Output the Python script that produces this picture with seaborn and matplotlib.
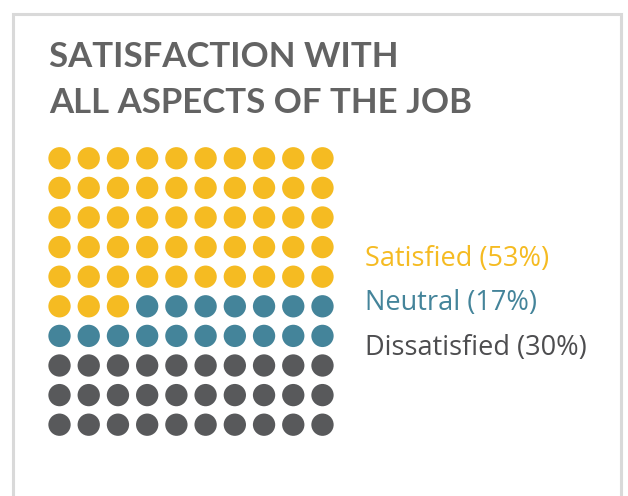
import numpy as np
import pandas as pd
import seaborn as sns
import matplotlib.pyplot as plt
from matplotlib.patches import Rectangle

# data
categories = ['Satisfied', 'Neutral', 'Dissatisfied']
counts = [53, 17, 30]
colors = ['#F5BB22', '#44849A', '#58595B']
title_lines = ['SATISFACTION WITH', 'ALL ASPECTS OF THE JOB']
n_cols = 10

# one row per dot, filled left to right, top to bottom
labels = np.repeat(categories, counts)
df = pd.DataFrame({'category': labels})
df['col'] = df.index % n_cols
df['row'] = df.index // n_cols

sns.set_theme(style="white")
plt.rcParams['font.family'] = ['Open Sans', 'DejaVu Sans']

W, H = 628, 496
fig = plt.figure(figsize=(W / 100, H / 100), dpi=100)

# waffle grid
ax = fig.add_axes([44.9 / W, 1 - 439.5 / H, 292.2 / W, 296 / H])
sns.scatterplot(data=df, x='col', y='row', hue='category', hue_order=categories,
                palette=colors, s=258, linewidth=0, legend=False, ax=ax)
ax.set_xlim(-0.5, 9.5)
ax.set_ylim(9.5, -0.5)
ax.axis('off')

# outer frame (open at the bottom)
fig.add_artist(Rectangle((12.5 / W, -0.1), (620.5 - 12.5) / W, 1.1 - 13.7 / H,
                         transform=fig.transFigure, fill=False, lw=2.2, ec='#d9d9d9'))

# title
for i, line in enumerate(title_lines):
    fig.text(49 / W, 1 - (67 + 46 * i) / H, line, fontsize=25, fontweight='bold',
             family=['Lato', 'DejaVu Sans'], color='#636363', va='baseline', ha='left')

# legend labels
text_colors = ['#F5BB22', '#44849A', '#4D4D4F']
for i, (cat, cnt) in enumerate(zip(categories, counts)):
    fig.text(365 / W, 1 - (266 + 44.5 * i) / H, f'{cat} ({cnt}%)', fontsize=19.5,
             color=text_colors[i], va='baseline', ha='left')

plt.savefig('out.png', dpi=100)
